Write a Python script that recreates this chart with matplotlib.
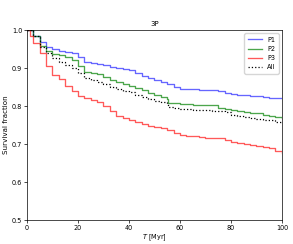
import matplotlib
matplotlib.use('Agg')
import matplotlib.pyplot as plt
import numpy as np

# survival fraction, T in Myr
t_p1 = [0, 2.5, 5, 7.5, 10, 12.5, 15, 17.5, 20, 22.5, 25, 27.5, 30, 32.5, 35, 37.5, 40, 42.5, 45, 47.5,
        50, 52.5, 55, 57.5, 60, 62.5, 65, 67.5, 70, 72.5, 75, 77.5, 80, 82.5, 85, 87.5, 90, 92.5, 95, 97.5, 100]
s_p1 = [1.0, 0.985, 0.968, 0.956, 0.950, 0.946, 0.943, 0.939, 0.930, 0.916, 0.914, 0.910, 0.907, 0.904,
        0.900, 0.897, 0.894, 0.886, 0.879, 0.874, 0.869, 0.864, 0.858, 0.851, 0.845, 0.844, 0.844, 0.843,
        0.842, 0.841, 0.839, 0.835, 0.832, 0.830, 0.829, 0.827, 0.826, 0.824, 0.822, 0.821, 0.820]

t_p2 = [0, 2.5, 5, 7.5, 10, 12.5, 15, 17.5, 20, 22.5, 25, 27.5, 30, 32.5, 35, 37.5, 40, 42.5, 45, 47.5,
        50, 52.5, 55, 55.5, 57.5, 60, 62.5, 65, 67.5, 70, 72.5, 75, 77.5, 80, 82.5, 85, 87.5, 90, 92.5, 95, 97.5, 100]
s_p2 = [1.0, 0.985, 0.958, 0.945, 0.938, 0.934, 0.928, 0.921, 0.905, 0.890, 0.886, 0.883, 0.877, 0.868,
        0.862, 0.858, 0.854, 0.848, 0.841, 0.835, 0.830, 0.825, 0.819, 0.809, 0.807, 0.806, 0.805, 0.804,
        0.804, 0.804, 0.803, 0.796, 0.792, 0.789, 0.787, 0.785, 0.783, 0.781, 0.777, 0.775, 0.771, 0.769]

t_p3 = [0, 1, 2.5, 5, 7.5, 10, 12.5, 15, 17.5, 20, 22.5, 25, 27.5, 30, 32.5, 35, 37.5, 40, 42.5, 45, 47.5,
        50, 52.5, 55, 57.5, 60, 62.5, 65, 67.5, 70, 72.5, 75, 77.5, 80, 82.5, 85, 87.5, 90, 92.5, 95, 97.5, 100]
s_p3 = [1.0, 0.985, 0.965, 0.940, 0.905, 0.881, 0.872, 0.852, 0.839, 0.826, 0.820, 0.817, 0.810, 0.800,
        0.786, 0.775, 0.769, 0.763, 0.757, 0.752, 0.748, 0.745, 0.741, 0.737, 0.728, 0.724, 0.722, 0.720,
        0.719, 0.717, 0.716, 0.715, 0.710, 0.706, 0.703, 0.701, 0.697, 0.695, 0.691, 0.689, 0.683, 0.676]

t_all = [0, 2.5, 5, 7.5, 10, 12.5, 15, 17.5, 20, 22.5, 25, 27.5, 30, 32.5, 35, 37.5, 40, 42.5, 45, 47.5,
         50, 52.5, 55, 55.5, 57.5, 60, 62.5, 65, 67.5, 70, 72.5, 75, 77.5, 80, 82.5, 85, 87.5, 90, 92.5, 95, 97.5, 100]
s_all = [1.0, 0.983, 0.955, 0.940, 0.926, 0.916, 0.907, 0.900, 0.888, 0.873, 0.868, 0.862, 0.857, 0.851,
         0.846, 0.840, 0.836, 0.830, 0.824, 0.818, 0.813, 0.810, 0.806, 0.798, 0.795, 0.793, 0.791, 0.790,
         0.789, 0.789, 0.788, 0.786, 0.784, 0.776, 0.773, 0.770, 0.768, 0.766, 0.764, 0.762, 0.759, 0.756]

plt.rcParams['font.size'] = 4.7

fig = plt.figure(figsize=(2.93, 2.44), dpi=100)
ax = fig.add_axes([0.092, 0.098, 0.870, 0.779])

ax.plot(t_p1, s_p1, drawstyle='steps-post', color='b', alpha=0.6, lw=0.95, label='P1')
ax.plot(t_p2, s_p2, drawstyle='steps-post', color='g', alpha=0.7, lw=0.95, label='P2')
ax.plot(t_p3, s_p3, drawstyle='steps-post', color='r', alpha=0.65, lw=0.95, label='P3')
ax.plot(t_all, s_all, drawstyle='steps-post', color='k', ls=':', lw=0.9, label='All')

ax.set_xlim(0, 100)
ax.set_ylim(0.5, 1.0)
ax.set_xticks([0, 20, 40, 60, 80, 100])
ax.set_yticks([0.5, 0.6, 0.7, 0.8, 0.9, 1.0])
ax.tick_params(length=2, width=0.5, pad=1.5)
for s in ax.spines.values():
    s.set_linewidth(0.5)
ax.set_xlabel('$T$ [Myr]', labelpad=1)
ax.set_ylabel('Survival fraction', labelpad=2, fontsize=5.1)
ax.set_title('3P', pad=3, fontsize=5)
ax.legend(loc='upper right', handlelength=2.2, borderpad=0.5, labelspacing=0.5, framealpha=0.8)

fig.savefig('out.png', dpi=100)
